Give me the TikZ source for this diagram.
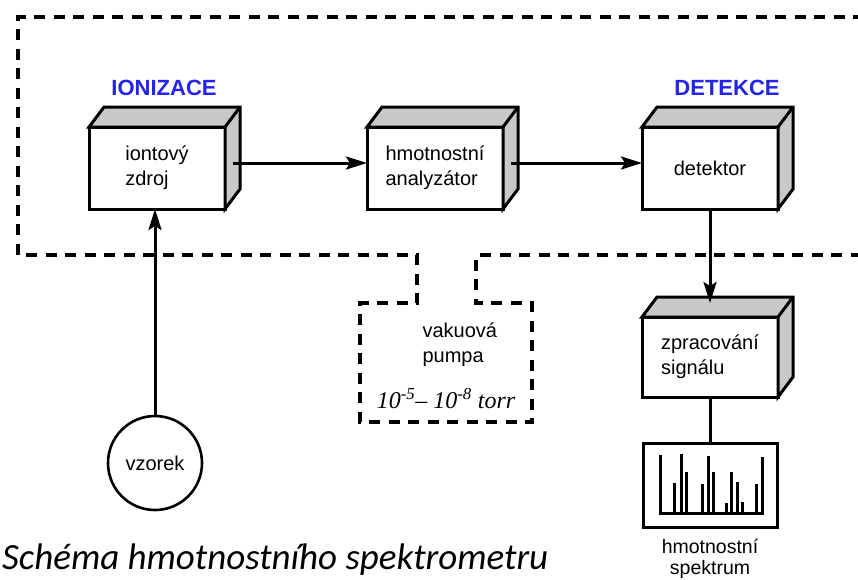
\documentclass[tikz,border=0pt]{standalone}
\usepackage{fontspec}
\setmainfont{Liberation Sans}
\newfontfamily\serifit{Liberation Serif}
\newfontfamily\capfont{Carlito}
\usetikzlibrary{arrows.meta}
\definecolor{stageblue}{RGB}{36,36,232}
\definecolor{facegray}{RGB}{200,200,200}
\tikzset{
  x=1pt, y=-1pt,
  frontbox/.style={draw, line width=3pt, fill=white, outer sep=0pt,
    minimum width=136pt, minimum height=82pt, align=left,
    font=\fontsize{20}{25}\selectfont},
  face/.style={draw, line width=3pt, fill=facegray, line join=miter},
  arr/.style={line width=3pt, -{Stealth[length=21pt,width=13pt,inset=4pt]}},
  link/.style={line width=3pt},
  vacuum/.style={line width=3.6pt, dash pattern=on 11pt off 8.5pt},
  stage/.style={text=stageblue, font=\fontsize{22}{26}\selectfont\bfseries},
  plain/.style={font=\fontsize{20}{25}\selectfont, align=left},
  bar/.style={line width=3pt}
}
\begin{document}
\begin{tikzpicture}
\useasboundingbox (0,0) rectangle (858,579);

% vacuum enclosure with the pump notch
\draw[vacuum] (864,17) -- (18,17) -- (18,255) -- (417,255) -- (417,303)
  -- (360,303) -- (360,422) -- (532,422) -- (532,303) -- (476,303)
  -- (476,255) -- (864,255);

% stage labels
\node[stage] (ion) at (164,88) {IONIZACE};
\node[stage] (det) at (727,88) {DETEKCE};

% front faces of the units
\node[frontbox] (b1) at (157,168) {iontový\\zdroj};
\node[frontbox] (b2) at (435,168) {hmotnostní\\analyzátor};
\node[frontbox] (b3) at (710,168) {detektor};
\node[frontbox, minimum height=80pt] (b4) at (710,357) {zpracování\\signálu};

% top and side faces
\foreach \n in {b1,b2,b3,b4} {
  \draw[face] (\n.north west) -- ++(15,-20) -- ([shift={(15,-20)}]\n.north east)
    -- ([shift={(15,-20)}]\n.south east) -- (\n.south east) -- (\n.north east) -- cycle;
  \draw[line width=3pt] (\n.north east) -- ++(15,-20);
}

% sample
\node[draw, circle, line width=2.6pt, minimum size=94pt, inner sep=0pt,
  font=\fontsize{20}{25}\selectfont] (vz) at (155,463) {vzorek};

% pump
\node[plain, anchor=west] (pump) at (419,345) {vakuová\\pumpa};
\node[font=\serifit\itshape\fontsize{24}{28}\selectfont] (press) at (446,399)
  {10\textsuperscript{-5}– 10\textsuperscript{-8} torr};

% spectrum display
\node[draw, line width=3pt, outer sep=0pt, minimum width=134pt,
  minimum height=84pt] (spec) at (710,485) {};
\draw[bar] (660,455) -- (660,513) -- (762,513) -- (762,457);
\foreach \bx/\by in {674/483, 681/454, 686/472, 702/484, 708/456, 713/472,
  726/503, 731/472, 737/482, 742/502, 756/484}
  \draw[bar] (\bx,513) -- (\bx,\by);
\node[font=\fontsize{19.5}{21}\selectfont, align=center] (speclbl) at (710,559)
  {hmotnostní\\spektrum};

% signal path
\draw[arr] ([shift={(8,-5)}]b1.east) -- ([shift={(0,-5)}]b2.west);
\draw[arr] ([shift={(8,-5)}]b2.east) -- ([shift={(0,-5)}]b3.west);
\draw[arr] (b3.south) -- ([shift={(0,-14)}]b4.north);
\draw[link] (b4.south) -- (spec.north);
\draw[arr] (vz.north) -- (vz.north |- b1.south);

% caption
\node[anchor=base west, inner sep=0pt,
  font=\capfont\itshape\fontsize{37}{42}\selectfont] (cap) at (2,569)
  {Schéma hmotnostního spektrometru};
\end{tikzpicture}
\end{document}
